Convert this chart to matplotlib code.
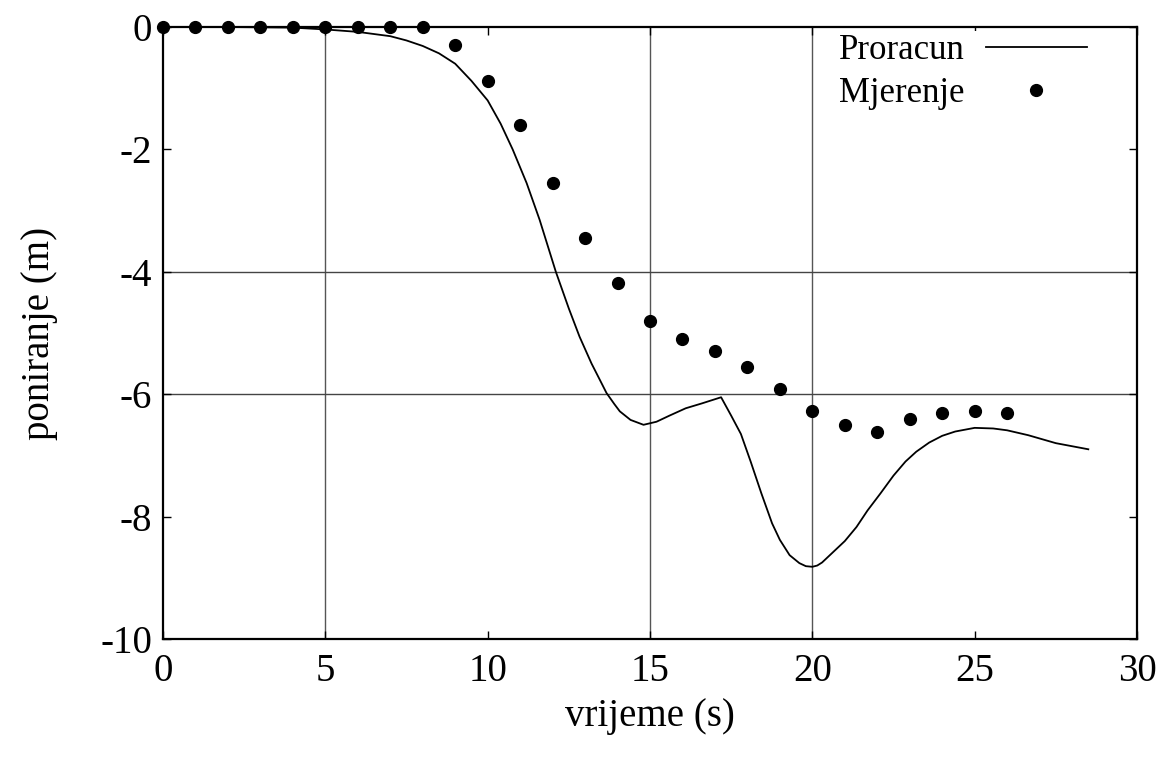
import numpy as np
import matplotlib
matplotlib.use('Agg')
import matplotlib.pyplot as plt

# measured sinking (dots), one per second
t_mjerenje = [0, 1, 2, 3, 4, 5, 6, 7, 8, 9, 10, 11, 12, 13, 14, 15, 16, 17,
              18, 19, 20, 21, 22, 23, 24, 25, 26]
y_mjerenje = [0, 0, 0, 0, 0, 0, 0, 0, 0, -0.29, -0.89, -1.6, -2.55, -3.44,
              -4.19, -4.8, -5.09, -5.3, -5.55, -5.91, -6.27, -6.51, -6.61,
              -6.41, -6.31, -6.27, -6.31]

# computed sinking (line)
t_proracun = [0, 2, 4, 5, 6, 7, 7.5, 8, 8.5, 9, 9.5, 10, 10.4, 10.77, 11.2,
              11.6, 12.1, 12.5, 12.83, 13.2, 13.45, 13.66, 13.9, 14.07, 14.4,
              14.8, 15.2, 15.6, 16.1, 16.6, 17.19, 17.5, 17.8, 18.1, 18.43,
              18.76, 19.0, 19.3, 19.6, 19.8, 20.0, 20.15, 20.3, 20.6, 21.0,
              21.36, 21.7, 22.1, 22.5, 22.87, 23.2, 23.6, 24.0, 24.4, 25.0,
              25.57, 26.0, 26.65, 27.5, 28.5]
y_proracun = [0, 0, -0.01, -0.04, -0.08, -0.15, -0.22, -0.31, -0.43, -0.6,
              -0.88, -1.2, -1.58, -2.0, -2.55, -3.15, -4.0, -4.6, -5.06, -5.5,
              -5.76, -5.98, -6.16, -6.28, -6.42, -6.5, -6.45, -6.35, -6.23,
              -6.15, -6.05, -6.35, -6.65, -7.1, -7.62, -8.11, -8.38, -8.63,
              -8.76, -8.81, -8.82, -8.8, -8.75, -8.6, -8.4, -8.17, -7.9,
              -7.62, -7.33, -7.1, -6.94, -6.79, -6.68, -6.61, -6.55, -6.56,
              -6.59, -6.67, -6.8, -6.9]

x_ticks = [0, 5, 10, 15, 20, 25, 30]
y_ticks = [0, -2, -4, -6, -8, -10]
x_grid = [5, 15, 20]
y_grid = [-4, -6]

plt.rcParams['font.family'] = ['Liberation Serif', 'DejaVu Serif']
plt.rcParams['axes.unicode_minus'] = False
fs = 28

fig = plt.figure(figsize=(11.65, 7.58), dpi=100)
ax = fig.add_axes([163 / 1165, 1 - 639 / 758, 974 / 1165, 612 / 758])

for xg in x_grid:
    ax.axvline(xg, color='#555555', lw=1, zorder=1)
for yg in y_grid:
    ax.axhline(yg, color='#444444', lw=1, zorder=1)

ax.plot(t_proracun, y_proracun, color='black', lw=1.3, label='Proracun', zorder=3)
ax.plot(t_mjerenje, y_mjerenje, 'o', color='black', ms=8.5, label='Mjerenje',
        clip_on=False, zorder=4)

ax.set_xlim(0, 30)
ax.set_ylim(-10, 0)
ax.set_xticks(x_ticks)
ax.set_yticks(y_ticks)
ax.tick_params(direction='in', length=6, width=1, top=True, right=True,
               labelsize=fs)
ax.tick_params(axis='x', pad=10)
ax.tick_params(axis='y', pad=8)
for sp in ax.spines.values():
    sp.set_linewidth(1.6)

ax.set_xlabel('vrijeme (s)', fontsize=fs, labelpad=6)
ax.set_ylabel('poniranje (m)', fontsize=fs, labelpad=30)

leg = ax.legend(loc='upper right', bbox_to_anchor=((1090 - 163) / 974, 1 - 4 / 612),
                markerfirst=False, frameon=True, fancybox=False, fontsize=25,
                handlelength=2.9, handletextpad=0.6, labelspacing=0.28,
                borderpad=0.1, borderaxespad=0)
leg.get_frame().set_facecolor('white')
leg.get_frame().set_edgecolor('none')
leg.get_frame().set_alpha(1)

fig.savefig('out.png', dpi=100)
